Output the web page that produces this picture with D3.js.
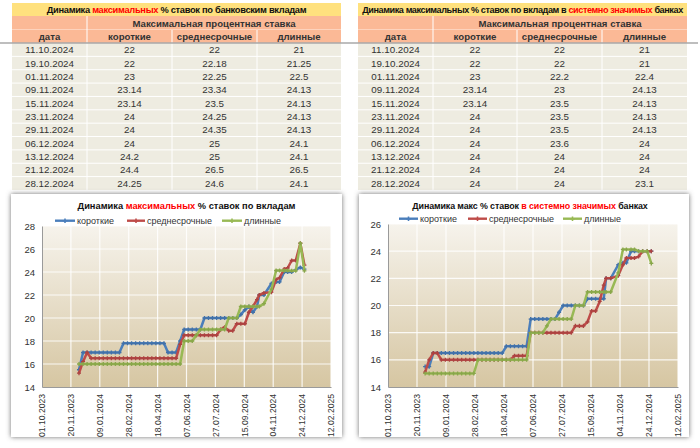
<!DOCTYPE html>
<html><head><meta charset="utf-8">
<script src="https://cdn.jsdelivr.net/npm/d3@7"></script>
<style>
body{margin:0;background:#fff}
svg{display:block}
text{font-family:"Liberation Sans",Arial,sans-serif}
</style>
</head><body>
<svg id="c" width="700" height="448"></svg>
<script>
// ---------- DATA ----------
const tableDates = ["11.10.2024","19.10.2024","01.11.2024","09.11.2024","15.11.2024","23.11.2024","29.11.2024","06.12.2024","13.12.2024","21.12.2024","28.12.2024"];
// all banks (table)
const allShort = [22,22,23,23.14,23.14,24,24,24,24.2,24.4,24.25];
const allMid   = [22,22.18,22.25,23.34,23.5,24.25,24.35,25,25,26.5,24.6];
const allLong  = [21,21.25,22.5,24.13,24.13,24.13,24.13,24.1,24.1,26.5,24.1];
// systemically important banks (table)
const sysShort = [22,22,23,23.14,23.14,24,24,24,24,24,24];
const sysMid   = [22,22,22.2,23,23.5,23.5,23.5,23.6,24,24,24];
const sysLong  = [21,21,22.4,24.13,24.13,24.13,24.13,24,24,24,23.1];

// earlier history
const earlyDates = ["04.12.2023","11.12.2023","18.12.2023","25.12.2023","01.01.2024","08.01.2024","15.01.2024","22.01.2024","29.01.2024","05.02.2024","12.02.2024","19.02.2024","26.02.2024","04.03.2024","11.03.2024","18.03.2024","25.03.2024","01.04.2024","08.04.2024","15.04.2024","22.04.2024","29.04.2024","06.05.2024","13.05.2024","20.05.2024","27.05.2024","03.06.2024","10.06.2024","17.06.2024","24.06.2024","01.07.2024","08.07.2024","15.07.2024","22.07.2024","29.07.2024","05.08.2024","12.08.2024","19.08.2024","26.08.2024","02.09.2024","09.09.2024","16.09.2024","23.09.2024","30.09.2024","07.10.2024"];
const allShortEarly = [15.5,17,17,17,17,17,17,17,17,17,17,17.8,17.8,17.8,17.8,17.8,17.8,17.8,17.8,17.8,17.8,17.8,17,17,17,18,19,19,19,19,19,20,20,20,20,20,20,20,20,20,20.3,20.7,21,20.5,21];
const allMidEarly   = [15.2,16.2,17,16.5,16.5,16.5,16.5,16.5,16.5,16.5,16.5,16.5,16.5,16.5,16.5,16.5,16.5,16.5,16.5,16.5,16.5,16.5,16.5,16.5,16.5,17.7,18.5,18.5,18.5,18.5,18.5,18.5,18.5,18.5,18.5,19,19.2,18.9,18.9,19.5,19.5,19.5,20.5,21,21.6];
const allLongEarly  = [16,16,16,16,16,16,16,16,16,16,16,16,16,16,16,16,16,16,16,16,16,16,16,16,16,16,18,18,18,18.5,19,19,19,19,19,19,19,20,20,20,21,21,21,21,21];
const sysShortEarly = [15.5,15.5,16.5,16.5,16.5,16.5,16.5,16.5,16.5,16.5,16.5,16.5,16.5,16.5,16.5,16.5,16.5,16.5,16.5,16.5,17,17,17,17,17,17,19,19,19,19,19,19,19,19.5,20,20,20,20,20,20,20.5,20.5,20.5,20.5,20.5];
const sysMidEarly   = [15.1,16,16.5,16.5,16,16,16,16,16,16,16,16,16,16,16,16,16,16,16,16,16,16,16.3,16.3,16.3,16.3,18,18,18,18,18,18,18,18,18,18,18,18.5,18.5,18.5,18.8,19.6,19.6,20.3,21.5];
const sysLongEarly  = [15,15,15,15,15,15,15,15,15,15,15,15,15,16,16,16,16,16,16,16,16,16,16,16,16,16,18,18,18,18,18.5,19,19,19,19,19,19,20,20,20,21,21,21,21,21];

const xTickLabels = ["01.10.2023","20.11.2023","09.01.2024","28.02.2024","18.04.2024","07.06.2024","27.07.2024","15.09.2024","04.11.2024","24.12.2024","12.02.2025"];
const yTicksAll = [14,16,18,20,22,24,26,28];
const yTicksSys = [14,16,18,20,22,24,26];
const seriesNames = ["короткие","среднесрочные","длинные"];
const headerTop = "Максимальная процентная ставка";
const headerCols = ["дата","короткие","среднесрочные","длинные"];

// ---------- STYLE ----------
const colors = ["#4A7EBB","#BE4B48","#98B954"];
const parse = d3.utcParse("%d.%m.%Y");
const svg = d3.select("#c");
const defs = svg.append("defs");
const grad = defs.append("linearGradient").attr("id","pg").attr("x1",0).attr("y1",0).attr("x2",0).attr("y2",1);
grad.append("stop").attr("offset","0%").attr("stop-color","#F6F3EC");
grad.append("stop").attr("offset","100%").attr("stop-color","#D6C6A2");
const f = defs.append("filter").attr("id","sh").attr("x","-10%").attr("y","-10%").attr("width","120%").attr("height","120%");
f.append("feDropShadow").attr("dx",0).attr("dy",0).attr("stdDeviation",2.4).attr("flood-color","#666").attr("flood-opacity",0.95);

// ---------- TABLES ----------
function drawTable(edges, titleParts, titleSize, titleLs, cols){
  const g = svg.append("g");
  const x0 = edges[0], x1 = edges[4];
  g.append("rect").attr("x",x0).attr("y",3).attr("width",x1-x0).attr("height",13).attr("fill","#FFE17E");
  g.append("rect").attr("x",x0).attr("y",16).attr("width",x1-x0).attr("height",27).attr("fill","#FBB996");
  const rowH = 13.36, top = 43;
  g.append("rect").attr("x",x0).attr("y",top).attr("width",x1-x0).attr("height",rowH*11).attr("fill","#EEECE1");
  g.append("line").attr("x1",x0).attr("x2",x1).attr("y1",29.5).attr("y2",29.5).attr("stroke","#FDD3BD").attr("stroke-width",1);
  for(let i=1;i<11;i++){
    g.append("line").attr("x1",x0).attr("x2",x1).attr("y1",top+rowH*i).attr("y2",top+rowH*i).attr("stroke","#fff").attr("stroke-width",1);
  }
  g.append("line").attr("x1",edges[1]).attr("x2",edges[1]).attr("y1",16).attr("y2",top+rowH*11).attr("stroke","#fff");
  [2,3].forEach(k=>{
    g.append("line").attr("x1",edges[k]).attr("x2",edges[k]).attr("y1",30).attr("y2",top+rowH*11).attr("stroke","#fff");
  });
  const t = g.append("text").attr("x",(x0+x1)/2).attr("y",10).attr("dominant-baseline","central")
    .attr("text-anchor","middle").attr("font-size",titleSize).attr("letter-spacing",titleLs).attr("font-weight","bold").attr("fill","#111");
  titleParts.forEach(p=>t.append("tspan").text(p[0]).attr("fill",p[1]));
  g.append("text").attr("x",(edges[1]+x1)/2).attr("y",23).attr("dominant-baseline","central").attr("text-anchor","middle")
    .attr("font-size",9.6).attr("font-weight","bold").attr("fill","#333").text(headerTop);
  headerCols.forEach((h,k)=>{
    g.append("text").attr("x",(edges[k]+edges[k+1])/2).attr("y",36.5).attr("dominant-baseline","central").attr("text-anchor","middle")
      .attr("font-size",9.6).attr("font-weight","bold").attr("fill","#333").text(h);
  });
  tableDates.forEach((d,i)=>{
    const cy = top + rowH*i + rowH/2;
    const vals = [d, cols[0][i], cols[1][i], cols[2][i]];
    vals.forEach((v,k)=>{
      g.append("text").attr("x",(edges[k]+edges[k+1])/2).attr("y",cy).attr("dominant-baseline","central").attr("text-anchor","middle")
        .attr("font-size",9.8).attr("fill","#333").text(String(v));
    });
  });
}
drawTable([12,87,172,257,341],
  [["Динамика ","#111"],["максимальных","#FF0000"],[" % ставок по банковским вкладам","#111"]], 9.3, -0.3,
  [allShort, allMid, allLong]);
drawTable([358,433,517,602,687],
  [["Динамика максимальных % ставок по вкладам в ","#111"],["системно значимых","#FF0000"],[" банках","#111"]], 9.1, -0.4,
  [sysShort, sysMid, sysLong]);

// ---------- CHARTS ----------
function drawChart(o){
  const g = svg.append("g");
  g.append("rect").attr("x",o.panel[0]).attr("y",o.panel[1]).attr("width",o.panel[2]).attr("height",o.panel[3])
    .attr("fill","#fff").attr("filter","url(#sh)");
  const x = d3.scaleUtc().domain([parse(xTickLabels[0]), parse(xTickLabels[xTickLabels.length-1])]).range([o.px0,o.px1]);
  const y = d3.scaleLinear().domain([o.yTicks[0], o.yTicks[o.yTicks.length-1]]).range([o.py1,o.py0]);
  g.append("rect").attr("x",o.px0).attr("y",o.py0).attr("width",o.px1-o.px0).attr("height",o.py1-o.py0).attr("fill","url(#pg)");
  g.selectAll(".hg").data(o.yTicks.slice(1)).join("line").attr("x1",o.px0).attr("x2",o.px1)
    .attr("y1",d=>y(d)).attr("y2",d=>y(d)).attr("stroke","#fff").attr("stroke-opacity",0.85).attr("stroke-width",1.2);
  g.selectAll(".vg").data(xTickLabels.slice(1)).join("line").attr("y1",o.py0).attr("y2",o.py1)
    .attr("x1",d=>x(parse(d))).attr("x2",d=>x(parse(d))).attr("stroke","#fff").attr("stroke-opacity",0.85).attr("stroke-width",1.2);
  const ya = g.append("g").attr("transform",`translate(${o.px0},0)`)
    .call(d3.axisLeft(y).tickValues(o.yTicks).tickSize(0).tickPadding(7).tickFormat(d3.format("d")));
  ya.select(".domain").attr("stroke","#9a9a9a");
  ya.selectAll("text").attr("font-size",9.5).attr("fill","#333").attr("font-family","Liberation Sans, Arial, sans-serif");
  const xa = g.append("g").attr("transform",`translate(0,${o.py1})`)
    .call(d3.axisBottom(x).tickValues(xTickLabels.map(parse)).tickSize(0).tickFormat((d,i)=>xTickLabels[i]));
  xa.select(".domain").attr("stroke","#9a9a9a");
  xa.selectAll("text").attr("font-size",8.6).attr("fill","#333").attr("font-family","Liberation Sans, Arial, sans-serif")
    .attr("text-anchor","end").attr("dy","0.32em").attr("transform","translate(0,7) rotate(-90)").attr("x",0).attr("y",0);
  const dates = earlyDates.concat(tableDates).map(parse);
  o.series.forEach((s,k)=>{
    const pts = dates.map((d,i)=>({d, v:s[i]}));
    g.append("path").datum(pts).attr("fill","none").attr("stroke",colors[k]).attr("stroke-width",2.5)
      .attr("stroke-linejoin","round")
      .attr("d",d3.line().x(p=>x(p.d)).y(p=>y(p.v)));
    g.selectAll(null).data(pts).join("path")
      .attr("transform",p=>`translate(${x(p.d)},${y(p.v)})`)
      .attr("d",d3.symbol(d3.symbolCross).size(9)).attr("fill",d3.color(colors[k]).darker(0.3));
  });
  const t = g.append("text").attr("x",o.titleX).attr("y",206).attr("dominant-baseline","central").attr("text-anchor","middle")
    .attr("font-size",o.titleSize).attr("letter-spacing",o.titleLs).attr("font-weight","bold").attr("fill","#111");
  o.titleParts.forEach(p=>t.append("tspan").text(p[0]).attr("fill",p[1]));
  o.legend.forEach((L,k)=>{
    g.append("line").attr("x1",L[0]).attr("x2",L[1]).attr("y1",o.legY).attr("y2",o.legY).attr("stroke",colors[k]).attr("stroke-width",2.4);
    g.append("path").attr("transform",`translate(${(L[0]+L[1])/2},${o.legY})`).attr("d",d3.symbol(d3.symbolCross).size(12)).attr("fill",colors[k]);
    g.append("text").attr("x",L[1]+2).attr("y",o.legY).attr("dominant-baseline","central").attr("font-size",9).attr("fill","#333").text(seriesNames[k]);
  });
}
drawChart({panel:[11,194,331,243], px0:42, px1:331, py0:226, py1:387, yTicks:yTicksAll,
  series:[allShortEarly.concat(allShort), allMidEarly.concat(allMid), allLongEarly.concat(allLong)],
  titleX:186.5, titleSize:9.3, titleLs:0, titleParts:[["Динамика ","#111"],["максимальных","#FF0000"],[" % ставок по вкладам","#111"]],
  legY:220.7, legend:[[55,75],[127,145],[222,242]]});
drawChart({panel:[359,194,330,243], px0:388, px1:678, py0:224, py1:387, yTicks:yTicksSys,
  series:[sysShortEarly.concat(sysShort), sysMidEarly.concat(sysMid), sysLongEarly.concat(sysLong)],
  titleX:530, titleSize:8.9, titleLs:-0.1, titleParts:[["Динамика макс % ставок ","#111"],["в системно значимых","#FF0000"],[" банках","#111"]],
  legY:218.7, legend:[[399,418],[468,487],[563,582]]});

svg.append("line").attr("x1",0).attr("x2",698).attr("y1",43).attr("y2",43).attr("stroke","#a9a9a9").attr("stroke-width",1.5);
</script>
</body></html>
